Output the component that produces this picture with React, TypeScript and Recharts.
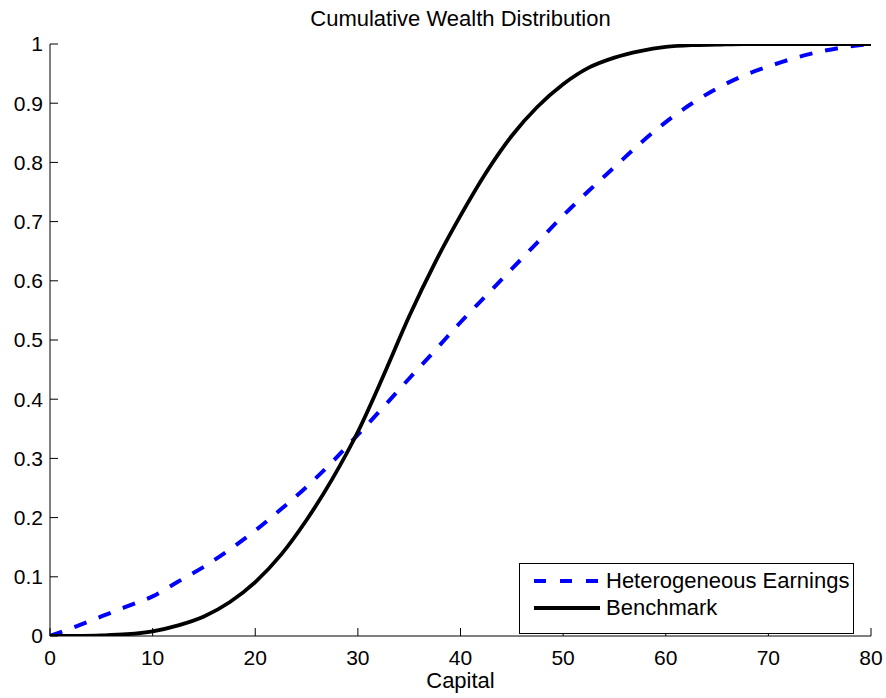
import React from 'react';
import { LineChart, Line, XAxis, YAxis, Legend } from 'recharts';

const capital = [0, 2.5, 5, 7.5, 10, 12.5, 15, 17.5, 20, 22.5, 25, 27.5, 30, 32.5, 35, 37.5, 40, 42.5, 45, 47.5, 50, 52.5, 55, 57.5, 60, 62.5, 65, 67.5, 70, 72.5, 75, 77.5, 80];
const heterogeneousEarnings = [0, 0.016, 0.033, 0.05, 0.067, 0.092, 0.117, 0.146, 0.178, 0.214, 0.252, 0.294, 0.34, 0.387, 0.435, 0.482, 0.53, 0.575, 0.62, 0.665, 0.71, 0.752, 0.792, 0.832, 0.868, 0.899, 0.925, 0.946, 0.962, 0.976, 0.987, 0.995, 1.0];
const benchmark = [0, 0.0002, 0.001, 0.003, 0.008, 0.018, 0.033, 0.057, 0.091, 0.137, 0.196, 0.265, 0.345, 0.44, 0.54, 0.63, 0.71, 0.783, 0.845, 0.894, 0.932, 0.96, 0.977, 0.988, 0.995, 0.998, 0.999, 1, 1, 1, 1, 1, 1];
const xTicks = [0, 10, 20, 30, 40, 50, 60, 70, 80];
const yTicks = [0, 0.1, 0.2, 0.3, 0.4, 0.5, 0.6, 0.7, 0.8, 0.9, 1];
const seriesNames = ['Heterogeneous Earnings', 'Benchmark'];
const titleText = 'Cumulative Wealth Distribution';
const xLabelText = 'Capital';

const data = capital.map((c, i) => ({
  capital: c,
  het: heterogeneousEarnings[i],
  bench: benchmark[i],
}));

const FONT = '"Liberation Sans", Arial, Helvetica, sans-serif';
const FS = 21;
const FS_TEXT = 22;
const TICK_LEN = 8;
const X_MARGIN = 14;
const Y_MARGIN = 7;
const BLUE = '#0000ff';

const BottomTick = (props: any) => {
  const { x, y, payload } = props;
  const axisY = y - X_MARGIN;
  return (
    <g>
      <line x1={x} x2={x} y1={axisY} y2={axisY - TICK_LEN} stroke="#000" strokeWidth={1} />
      <text x={x} y={y} dy="0.71em" textAnchor="middle" fill="#000" fontSize={FS} fontFamily={FONT}>
        {String(payload.value)}
      </text>
    </g>
  );
};

const LeftTick = (props: any) => {
  const { x, y, payload } = props;
  const axisX = x + Y_MARGIN;
  return (
    <g>
      <line x1={axisX} x2={axisX + TICK_LEN} y1={y} y2={y} stroke="#000" strokeWidth={1} />
      <text x={x} y={y} dy="0.355em" textAnchor="end" fill="#000" fontSize={FS} fontFamily={FONT}>
        {String(payload.value)}
      </text>
    </g>
  );
};

const TopTick = (props: any) => {
  const { x, y } = props;
  return <line x1={x} x2={x} y1={y} y2={y + TICK_LEN} stroke="#000" strokeWidth={1} />;
};

const RightTick = (props: any) => {
  const { x, y } = props;
  return <line x1={x} x2={x - TICK_LEN} y1={y} y2={y} stroke="#000" strokeWidth={1} />;
};

const LegendContent = () => (
  <div
    style={{
      position: 'relative',
      width: 333,
      height: 69,
      border: '1px solid #000',
      background: '#fff',
      fontFamily: FONT,
      fontSize: FS_TEXT,
      color: '#000',
    }}
  >
    <svg style={{ position: 'absolute', left: 13, top: 12 }} width={70} height={10}>
      <line x1={1} x2={67} y1={5} y2={5} stroke={BLUE} strokeWidth={4} strokeDasharray="12 14" />
    </svg>
    <div style={{ position: 'absolute', left: 86, top: 6, lineHeight: '21px', whiteSpace: 'nowrap' }}>{seriesNames[0]}</div>
    <svg style={{ position: 'absolute', left: 13, top: 39 }} width={70} height={10}>
      <line x1={1} x2={67} y1={5} y2={5} stroke="#000" strokeWidth={4} />
    </svg>
    <div style={{ position: 'absolute', left: 86, top: 33, lineHeight: '21px', whiteSpace: 'nowrap' }}>{seriesNames[1]}</div>
  </div>
);

export default function App() {
  return (
    <div style={{ position: 'absolute', left: 0, top: 0, width: 886, height: 698, background: '#fff' }}>
      <div
        style={{
          position: 'absolute',
          left: 50,
          width: 821,
          top: 8,
          textAlign: 'center',
          fontFamily: FONT,
          fontSize: FS_TEXT,
          lineHeight: '21px',
          color: '#000',
          whiteSpace: 'nowrap',
        }}
      >
        {titleText}
      </div>
      <LineChart width={886} height={698} data={data} margin={{ top: 44, right: 15, bottom: 0, left: 0 }}>
        <XAxis
          xAxisId="bottom"
          dataKey="capital"
          type="number"
          domain={[0, 80]}
          ticks={xTicks}
          allowDataOverflow
          height={62}
          tickSize={0}
          tickMargin={X_MARGIN}
          tickLine={false}
          axisLine={{ stroke: '#000', strokeWidth: 1 }}
          tick={<BottomTick />}
          interval={0}
        />
        <XAxis
          xAxisId="top"
          orientation="top"
          dataKey="capital"
          type="number"
          domain={[0, 80]}
          ticks={xTicks}
          allowDataOverflow
          height={0}
          tickSize={0}
          tickMargin={0}
          tickLine={false}
          axisLine={{ stroke: '#000', strokeWidth: 1 }}
          tick={<TopTick />}
          interval={0}
        />
        <YAxis
          yAxisId="left"
          type="number"
          domain={[0, 1]}
          ticks={yTicks}
          allowDataOverflow
          width={50}
          tickSize={0}
          tickMargin={Y_MARGIN}
          tickLine={false}
          axisLine={{ stroke: '#000', strokeWidth: 1 }}
          tick={<LeftTick />}
          interval={0}
        />
        <YAxis
          yAxisId="right"
          orientation="right"
          type="number"
          domain={[0, 1]}
          ticks={yTicks}
          allowDataOverflow
          width={0}
          tickSize={0}
          tickMargin={0}
          tickLine={false}
          axisLine={{ stroke: '#000', strokeWidth: 1 }}
          tick={<RightTick />}
          interval={0}
        />
        <Legend
          layout="vertical"
          align="center"
          verticalAlign="middle"
          content={<LegendContent />}
          wrapperStyle={{ left: 519, top: 563, width: 335, height: 71 }}
        />
        <Line
          xAxisId="bottom"
          yAxisId="left"
          name={seriesNames[0]}
          dataKey="het"
          type="monotone"
          stroke={BLUE}
          strokeWidth={4}
          strokeDasharray="13 13"
          dot={false}
          activeDot={false}
          isAnimationActive={false}
        />
        <Line
          xAxisId="bottom"
          yAxisId="left"
          name={seriesNames[1]}
          dataKey="bench"
          type="monotone"
          stroke="#000"
          strokeWidth={3.8}
          dot={false}
          activeDot={false}
          isAnimationActive={false}
        />
      </LineChart>
      <div
        style={{
          position: 'absolute',
          left: 50,
          width: 821,
          top: 670,
          textAlign: 'center',
          fontFamily: FONT,
          fontSize: FS_TEXT,
          lineHeight: '21px',
          color: '#000',
          whiteSpace: 'nowrap',
        }}
      >
        {xLabelText}
      </div>
    </div>
  );
}
